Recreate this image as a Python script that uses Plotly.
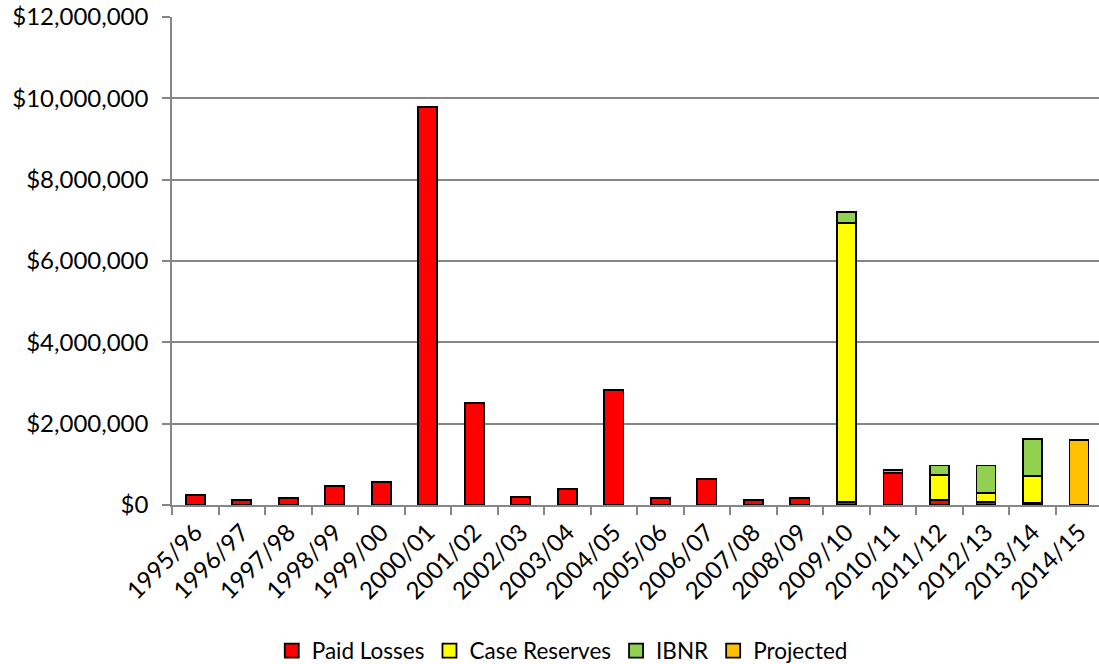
import plotly.graph_objects as go

years = ["1995/96", "1996/97", "1997/98", "1998/99", "1999/00", "2000/01", "2001/02",
         "2002/03", "2003/04", "2004/05", "2005/06", "2006/07", "2007/08", "2008/09",
         "2009/10", "2010/11", "2011/12", "2012/13", "2013/14", "2014/15"]

paid_losses = [255000, 115000, 180000, 477000, 560000, 9780000, 2500000,
               205000, 385000, 2820000, 165000, 630000, 120000, 165000,
               80000, 790000, 130000, 65000, 50000, 0]
case_reserves = [0, 0, 0, 0, 0, 0, 0, 0, 0, 0, 0, 0, 0, 0,
                 6850000, 0, 605000, 235000, 670000, 0]
ibnr = [0, 0, 0, 0, 0, 0, 0, 0, 0, 0, 0, 0, 0, 0,
        280000, 80000, 235000, 670000, 900000, 0]
projected = [0, 0, 0, 0, 0, 0, 0, 0, 0, 0, 0, 0, 0, 0,
             0, 0, 0, 0, 0, 1590000]

series = [
    ("Paid Losses", paid_losses, "#FF0000"),
    ("Case Reserves", case_reserves, "#FFFF00"),
    ("IBNR", ibnr, "#92D050"),
    ("Projected", projected, "#FFC000"),
]

FONT = "Lato"

fig = go.Figure()
for name, vals, color in series:
    fig.add_trace(go.Bar(
        name=name, x=years, y=[v if v else None for v in vals],
        marker=dict(color=color, line=dict(color="black", width=1.8)),
        showlegend=False,
    ))
# legend entries (square swatches with black border)
for name, vals, color in series:
    fig.add_trace(go.Scatter(
        name=name, x=[None], y=[None], mode="markers",
        marker=dict(symbol="square", size=14, color=color, line=dict(color="black", width=1.8)),
        showlegend=True,
    ))

fig.update_layout(
    barmode="stack",
    bargap=0.59,
    width=1099, height=664,
    margin=dict(l=172, r=0, t=17, b=159, autoexpand=False),
    plot_bgcolor="white", paper_bgcolor="white",
    font=dict(family=FONT, size=23, color="black"),
    legend=dict(orientation="h", x=0.421, xanchor="center", y=-0.299, yanchor="middle",
                font=dict(family=FONT, size=22.5), itemwidth=30, traceorder="normal",
                tracegroupgap=0, itemsizing="trace"),
    showlegend=True,
)
fig.update_xaxes(
    type="category", range=[-0.5, 19.43], automargin=False,
    tickangle=-45, tickson="boundaries", ticks="outside", ticklen=8, tickcolor="#868686",
    tickwidth=1.5, ticklabelstandoff=2,
    showline=True, linecolor="#868686", linewidth=1.5,
    tickfont=dict(family=FONT, size=24),
)
fig.update_yaxes(
    range=[0, 12000000], dtick=2000000, tickprefix="$", tickformat=",d",
    automargin=False, ticklabeloverflow="allow", ticklabelstandoff=9,
    showgrid=True, gridcolor="#868686", gridwidth=1.5,
    ticks="outside", ticklen=8, tickcolor="#868686", tickwidth=1.5,
    showline=True, linecolor="#868686", linewidth=1.5,
    zeroline=False,
    tickfont=dict(family=FONT, size=24),
)

fig.write_html("out.html",
               config={"displayModeBar": False},
               post_script="document.body.style.margin='0';document.body.style.overflow='hidden';")
